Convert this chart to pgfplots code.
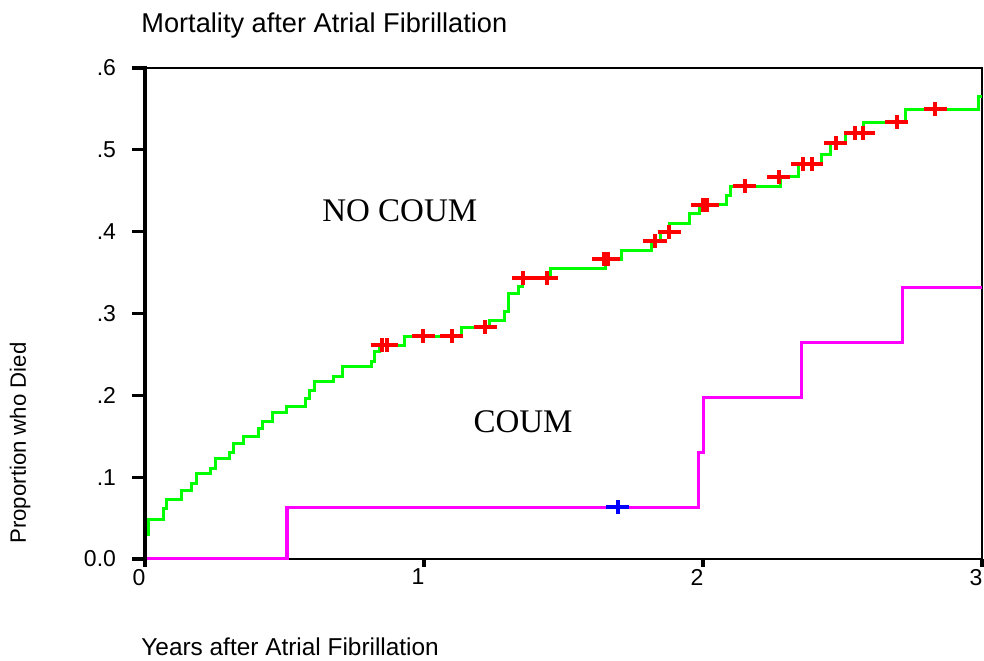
\documentclass[border=0pt]{standalone}
\usepackage{fontspec}
\setmainfont{Liberation Sans}
\newfontfamily\timesfont{Liberation Serif}
\usepackage{pgfplots}
\pgfplotsset{compat=1.18}
\definecolor{kmgreen}{RGB}{0,255,0}
\definecolor{kmred}{RGB}{255,0,0}
\definecolor{kmmag}{RGB}{255,0,255}
\definecolor{kmblue}{RGB}{0,0,255}
\begin{document}
\begin{tikzpicture}
\begin{axis}[
  at={(72.5pt,50.5pt)}, anchor=south west,
  scale only axis, width=418.5pt, height=245.5pt,
  xmin=0, xmax=3, ymin=0, ymax=0.6,
  axis line style={line width=1.4pt},
  xtick={0,1,2,3}, xticklabels={0,1,2,3},
  ytick={0,0.1,0.2,0.3,0.4,0.5,0.6},
  yticklabels={0.0,.1,.2,.3,.4,.5,.6},
  tick pos=left,
  tick align=outside,
  major tick length=0pt,
  /pgf/number format/assume math mode=true,
  ticklabel style={font=\fontsize{11.5}{13}\selectfont},
  xticklabel style={xshift=-3pt, yshift=-1.5pt},
  yticklabel style={xshift=-11pt},
  clip=true,
]
\addplot[const plot, color=kmgreen, line width=1.5pt] coordinates {
(0,0.030) (0.012,0.048) (0.066,0.062) (0.078,0.073) (0.131,0.084) (0.167,0.0925)
(0.183,0.104) (0.235,0.111) (0.251,0.123) (0.302,0.130) (0.316,0.141) (0.352,0.1495)
(0.406,0.160) (0.420,0.168) (0.456,0.179) (0.508,0.186) (0.576,0.196) (0.591,0.2065)
(0.606,0.2167) (0.675,0.223) (0.708,0.235) (0.812,0.241) (0.824,0.253) (0.840,0.2615)
(0.930,0.2725) (1.133,0.283) (1.234,0.292) (1.290,0.302) (1.302,0.3245) (1.338,0.333)
(1.353,0.343) (1.454,0.3544) (1.649,0.366) (1.708,0.3772) (1.816,0.388) (1.846,0.3992)
(1.880,0.410) (1.951,0.4225) (1.987,0.4326) (2.085,0.4448) (2.099,0.4558) (2.276,0.4672)
(2.342,0.4823) (2.425,0.4937) (2.457,0.508) (2.511,0.520) (2.575,0.534) (2.727,0.5495)
(2.987,0.565) (3.0,0.565)
};
\addplot[const plot, color=kmmag, line width=1.7pt] coordinates {
(0,0) (0.509,0.063) (1.983,0.130) (2.001,0.1976) (2.353,0.2648) (2.714,0.332) (3.0,0.332)
};
\addplot[only marks, mark=+, color=kmred, mark size=3.5pt,
  mark options={xscale=1.65, line width=2pt}] coordinates {
(0.850,0.2615) (0.866,0.2615) (0.998,0.2725) (1.099,0.2725) (1.219,0.283)
(1.356,0.343) (1.440,0.343) (1.645,0.366) (1.660,0.366) (1.828,0.388) (1.879,0.3992)
(2.000,0.4326) (2.015,0.4326) (2.150,0.4558) (2.272,0.4672) (2.357,0.4823) (2.389,0.4823)
(2.475,0.508) (2.545,0.520) (2.575,0.520) (2.694,0.534) (2.832,0.5495)
};
\addplot[only marks, mark=+, color=kmblue, mark size=3.5pt,
  mark options={xscale=1.65, line width=2pt}] coordinates {(1.694,0.063)};
\node[anchor=base west, inner sep=0pt, font=\timesfont\fontsize{16.5}{18}\selectfont] at (axis cs:0.634,0.412) {NO COUM};
\node[anchor=base west, inner sep=0pt, font=\timesfont\fontsize{16.5}{18}\selectfont] at (axis cs:1.176,0.154) {COUM};
\end{axis}
% axis frame decorations: thick left spine and outward ticks
\draw[line width=2.4pt, line cap=rect] (72.5pt,50.5pt) -- (72.5pt,296pt);
\foreach \y in {50.5,91.4167,132.3333,173.25,214.1667,255.0833,296} {
  \draw[line width=1.6pt] (66pt,\y pt) -- (72.5pt,\y pt);
}
\foreach \x in {72.5,212,351.5,491} {
  \draw[line width=1.6pt] (\x pt,50.5pt) -- (\x pt,46.5pt);
}
\node[anchor=base west, inner sep=0pt, font=\fontsize{13.6}{15}\selectfont] at (70.5pt,313.5pt) {Mortality after Atrial Fibrillation};
\node[anchor=base west, inner sep=0pt, font=\fontsize{12.2}{14}\selectfont] at (70.5pt,2.5pt) {Years after Atrial Fibrillation};
\node[rotate=90, anchor=base west, inner sep=0pt, font=\fontsize{11.1}{13}\selectfont] at (13pt,58pt) {Proportion who Died};
\pgfresetboundingbox
\path[use as bounding box] (0,0) rectangle (492pt,330pt);
\end{tikzpicture}
\end{document}
